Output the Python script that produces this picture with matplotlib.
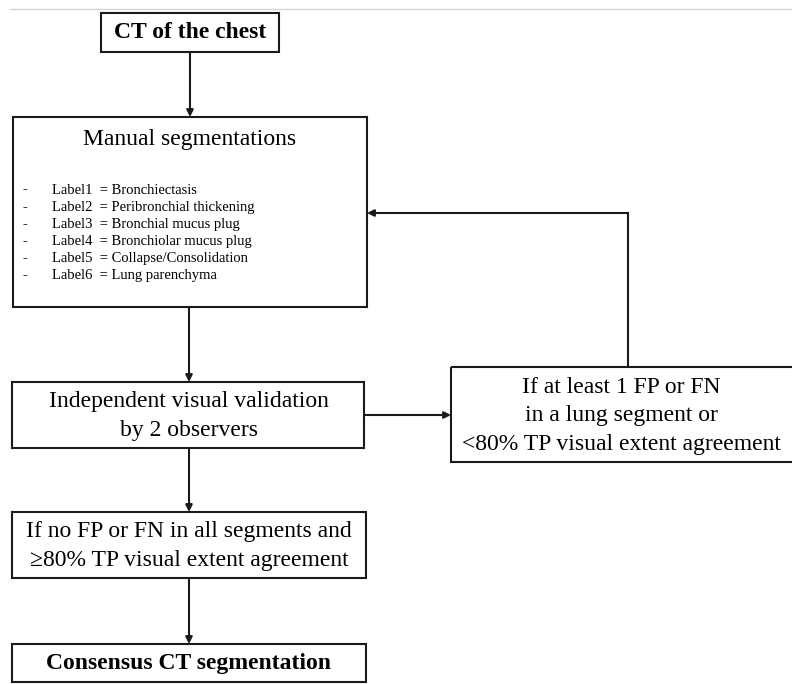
import matplotlib.pyplot as plt
from matplotlib.patches import Rectangle

plt.rcParams['font.family'] = ['Liberation Serif', 'DejaVu Serif']

# box texts
ct_text = "CT of the chest"
manual_title = "Manual segmentations"
label_names = ["Label1", "Label2", "Label3", "Label4", "Label5", "Label6"]
label_meanings = ["Bronchiectasis", "Peribronchial thickening", "Bronchial mucus plug",
                  "Bronchiolar mucus plug", "Collapse/Consolidation", "Lung parenchyma"]
indep_text = "Independent visual validation\nby 2 observers"
fail_text = "If at least 1 FP or FN\nin a lung segment or\n<80% TP visual extent agreement"
pass_text = "If no FP or FN in all segments and\n\u226580% TP visual extent agreement"
consensus_text = "Consensus CT segmentation"

# layout in pixels (x0, y0, x1, y1), y going down
boxes = {
    'ct': (101, 13, 279, 52),
    'manual': (13, 117, 367, 307),
    'indep': (12, 382, 364, 448),
    'fail': (451, 367, 796, 462),
    'pass': (12, 512, 366, 578),
    'cons': (12, 644, 366, 682),
}

fig = plt.figure(figsize=(7.92, 6.84), dpi=100)
ax = fig.add_axes([0, 0, 1, 1])
ax.set_xlim(0, 792)
ax.set_ylim(684, 0)
ax.axis('off')

# thin grey rule at the top
ax.plot([10, 792], [9, 9], color='#d4d4d4', lw=1)

for x0, y0, x1, y1 in boxes.values():
    ax.add_patch(Rectangle((x0, y0), x1 - x0, y1 - y0, fill=False,
                           edgecolor='#1a1a1a', lw=1.5))

ax.text(190, 33, ct_text, ha='center', va='center', fontsize=17, fontweight='bold')
ax.text(190, 139, manual_title, ha='center', va='center', fontsize=17)
for i, (name, meaning) in enumerate(zip(label_names, label_meanings)):
    y = 190 + 17.2 * i
    ax.text(25, y, "-", ha='center', va='center', fontsize=10.5, fontweight='bold')
    ax.text(52, y, f"{name}  = {meaning}", ha='left', va='center', fontsize=10.5)

ax.text(189, 416, indep_text, ha='center', va='center', fontsize=17, linespacing=1.55)
ax.text(621, 416, fail_text, ha='center', va='center', fontsize=17, linespacing=1.47)
ax.text(189, 546, pass_text, ha='center', va='center', fontsize=17, linespacing=1.5)
ax.text(189, 664, consensus_text, ha='center', va='center', fontsize=17, fontweight='bold')

arrow = dict(arrowstyle='-|>', mutation_scale=10, lw=1.5, color='#1a1a1a',
             shrinkA=0, shrinkB=0)


def connect(p0, p1):
    ax.annotate('', xy=p1, xytext=p0, arrowprops=arrow)


connect((190, 52), (190, 117))
connect((189, 307), (189, 382))
connect((364, 415), (451, 415))
connect((189, 448), (189, 512))
connect((189, 578), (189, 644))
# loop back from the fail box to manual segmentations
ax.plot([628, 628], [367, 213], color='#1a1a1a', lw=1.5, solid_capstyle='projecting')
connect((628, 213), (367, 213))

fig.savefig('out.png', dpi=100)
